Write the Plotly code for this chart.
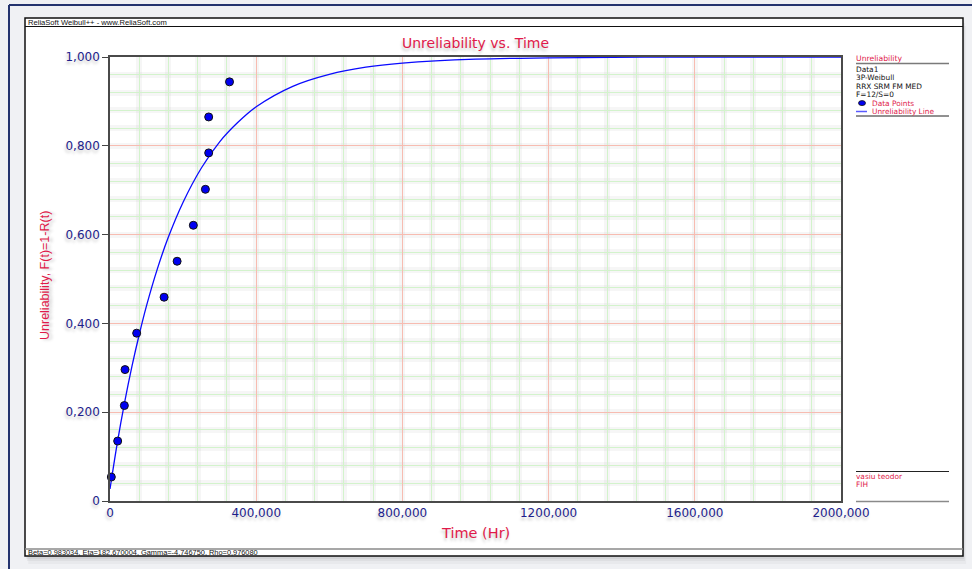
import plotly.graph_objects as go

# Failure data: time to failure (Hr) and median-rank unreliability
fail_times = [3600, 21000, 39300, 41100, 73000, 148000, 183600,
              228000, 261000, 270000, 270000, 327000]
fail_unrel = [0.054, 0.135, 0.215, 0.296, 0.378, 0.459, 0.540,
              0.621, 0.702, 0.784, 0.865, 0.944]

# Fitted 3P-Weibull unreliability line
line_times = [0, 20000, 40000, 60000, 80000, 100000, 130000, 160000,
              200000, 250000, 300000, 350000, 400000, 500000, 600000,
              700000, 800000, 1000000, 1200000, 1600000, 2000000]
line_unrel = [0.027, 0.131, 0.222, 0.303, 0.375, 0.440, 0.524, 0.595,
              0.673, 0.750, 0.809, 0.853, 0.888, 0.934, 0.961,
              0.977, 0.986, 0.995, 0.998, 1.000, 1.000]

x_tick_vals = [0, 400000, 800000, 1200000, 1600000, 2000000]
x_tick_text = ["0", "400,000", "800,000", "1200,000", "1600,000", "2000,000"]
y_tick_vals = [0, 0.2, 0.4, 0.6, 0.8, 1.0]
y_tick_text = ["0", "0,200", "0,400", "0,600", "0,800", "1,000"]

legend_info = ["Data1", "3P-Weibull", "RRX SRM FM MED", "F=12/S=0"]
user_info = ["vasiu teodor", "FIH"]
header_text = "ReliaSoft Weibull++ - www.ReliaSoft.com"
footer_text = "Beta=0,983034, Eta=182,670004, Gamma=-4,746750, Rho=0,976080"

# page geometry (pixels)
FIG_W, FIG_H = 972, 569
L, R, T, B = 110, 841, 57, 501
W, H = R - L, B - T
X_RANGE = [0, 2000000]
Y_RANGE = [0, 1]

CRIMSON = "#e01a4a"
NAVY_TXT = "#1e1e8c"
SHADOW = "-1px 3px 3px rgba(0,0,0,0.22)"
LEG_FONT = 7.4
LEG_STEP = 8.4


def px(x):
    return (x - L) / W


def py(y):
    return (B - y) / H


def note(text, x, y, size, color, family="DejaVu Sans", xanchor="left",
         angle=0, shadow="none"):
    return dict(text=text, x=px(x), y=py(y), xref="paper", yref="paper",
                xanchor=xanchor, yanchor="middle", showarrow=False,
                textangle=angle, borderpad=0,
                font=dict(size=size, color=color, family=family, shadow=shadow))


def hline(x0, x1, y, color, width, layer="below"):
    return dict(type="line", xref="paper", yref="paper", x0=px(x0), x1=px(x1),
                y0=py(y), y1=py(y), line=dict(color=color, width=width),
                layer=layer)


def box(x0, y0, x1, y1, fill, line_color=None, line_width=0):
    return dict(type="rect", xref="paper", yref="paper", x0=px(x0), x1=px(x1),
                y0=py(y1), y1=py(y0), fillcolor=fill,
                line=dict(color=line_color or "rgba(0,0,0,0)", width=line_width),
                layer="below")


def grid_x(n, dtick, color, width):
    return dict(overlaying="x", anchor="y%d" % n, range=X_RANGE,
                tickmode="linear", tick0=0, dtick=dtick, showticklabels=False,
                ticks="", showgrid=True, gridcolor=color, gridwidth=width,
                showline=False, zeroline=False, fixedrange=True)


def grid_y(n, dtick, color, width):
    return dict(overlaying="y", anchor="x%d" % n, range=Y_RANGE,
                tickmode="linear", tick0=0, dtick=dtick, showticklabels=False,
                ticks="", showgrid=True, gridcolor=color, gridwidth=width,
                showline=False, zeroline=False, fixedrange=True)


fig = go.Figure()

# fitted line
fig.add_trace(go.Scatter(
    x=line_times, y=line_unrel, mode="lines",
    line=dict(color="#0a0aff", width=1.3, shape="spline"),
    name="Unreliability Line", showlegend=False, cliponaxis=False,
    hoverinfo="skip"))

# data points
fig.add_trace(go.Scatter(
    x=fail_times, y=fail_unrel, mode="markers",
    marker=dict(symbol="circle", size=8, color="#0000f0",
                line=dict(color="#111111", width=1)),
    name="Data Points", showlegend=False, cliponaxis=False))

# empty traces carrying the grid layers (soft halo, green minor, red major)
for n in (2, 3, 4):
    fig.add_trace(go.Scatter(x=[], y=[], xaxis="x%d" % n, yaxis="y%d" % n,
                             showlegend=False, hoverinfo="skip"))

halo = "rgba(0,0,0,0.035)"
grid_red = "#f7bcb1"
grid_green = "#d3f3cc"

shapes = []
# page frame
shapes.append(hline(9, 972, 5, "#24336e", 2))
shapes.append(dict(type="line", xref="paper", yref="paper", x0=px(9), x1=px(9),
                   y0=py(5), y1=py(569), line=dict(color="#24336e", width=2),
                   layer="below"))
# panel drop shadow
for k, a in [(8, 0.03), (5, 0.04), (3, 0.05)]:
    shapes.append(box(25 + k * 0.4, 18 + k, 963 + k * 0.4, 556 + k,
                      "rgba(0,0,0,%.3f)" % a))
# white panel
shapes.append(box(25, 18, 963, 556, "white", "#111111", 1.5))
shapes.append(hline(25, 963, 26.5, "#111111", 1.2))
shapes.append(hline(25, 963, 549, "#8a8a8a", 1.5))

# legend block
leg_top = 69.5
rows_y = [leg_top + LEG_STEP * i for i in range(6)]
shapes.append(hline(856, 949, 63.5, "#7a7a7a", 1.5))
shapes.append(hline(856, 949, rows_y[-1] + 4.5, "#222222", 1))
shapes.append(hline(856, 949, 471.5, "#222222", 1))
shapes.append(hline(856, 949, 501.5, "#8a8a8a", 1.5))
shapes.append(dict(type="circle", xref="paper", yref="paper",
                   x0=px(858.5), x1=px(865.5), y0=py(rows_y[4] + 2.5),
                   y1=py(rows_y[4] - 2.5),
                   fillcolor="#0000f0", line=dict(color="#111111", width=0.8),
                   layer="above"))
shapes.append(hline(856, 867, rows_y[5], "#5a5aff", 1.5, layer="above"))

annotations = [
    note("Unreliability vs. Time", 475, 43.5, 14, CRIMSON, xanchor="center",
         shadow=SHADOW),
    note("Time (Hr)", 475, 533, 14.5, CRIMSON, xanchor="center", shadow=SHADOW),
    note("Unreliability, F(t)=1-R(t)", 45, 276, 12.5, CRIMSON,
         family="Liberation Sans", xanchor="center", angle=-90, shadow=SHADOW),
    note(header_text, 27, 22.3, 7.6, "#111111", family="Liberation Sans"),
    note(footer_text, 27, 552.8, 7.4, "#111111", family="Liberation Sans"),
    note("Unreliability", 855, 59, LEG_FONT + 0.3, CRIMSON),
]
for i, line in enumerate(legend_info):
    annotations.append(note(line, 855, rows_y[i], LEG_FONT, "#111111"))
annotations.append(note("Data Points", 871, rows_y[4], LEG_FONT, CRIMSON))
annotations.append(note("Unreliability Line", 871, rows_y[5], LEG_FONT, CRIMSON))
for i, line in enumerate(user_info):
    annotations.append(note(line, 855, 476 + LEG_STEP * i, LEG_FONT, CRIMSON))

tick_font = dict(family="DejaVu Sans", size=12, color=NAVY_TXT, shadow=SHADOW)

fig.update_layout(
    width=FIG_W, height=FIG_H, autosize=False,
    margin=dict(l=L, r=FIG_W - R, t=T, b=FIG_H - B, pad=0),
    paper_bgcolor="#f0f1f4", plot_bgcolor="white",
    showlegend=False,
    shapes=shapes, annotations=annotations,
    xaxis=dict(
        range=X_RANGE, tickmode="array", tickvals=x_tick_vals,
        ticktext=x_tick_text, ticks="", tickfont=tick_font, showgrid=False,
        showline=True, linecolor="#4a4a4a", linewidth=1.5, mirror=True,
        zeroline=False, fixedrange=True),
    yaxis=dict(
        range=Y_RANGE, tickmode="array", tickvals=y_tick_vals,
        ticktext=y_tick_text, ticks="outside", ticklen=6, tickwidth=1,
        tickcolor="#444444", tickfont=tick_font, showgrid=False,
        showline=True, linecolor="#4a4a4a", linewidth=1.5, mirror=True,
        zeroline=False, fixedrange=True),
    xaxis2=grid_x(2, 80000, halo, 6),
    yaxis2=grid_y(2, 0.04, halo, 6),
    xaxis3=grid_x(3, 80000, grid_green, 1),
    yaxis3=grid_y(3, 0.04, grid_green, 1),
    xaxis4=grid_x(4, 400000, grid_red, 1),
    yaxis4=grid_y(4, 0.2, grid_red, 1),
)

fig.write_html("out.html", config={"displayModeBar": False})
